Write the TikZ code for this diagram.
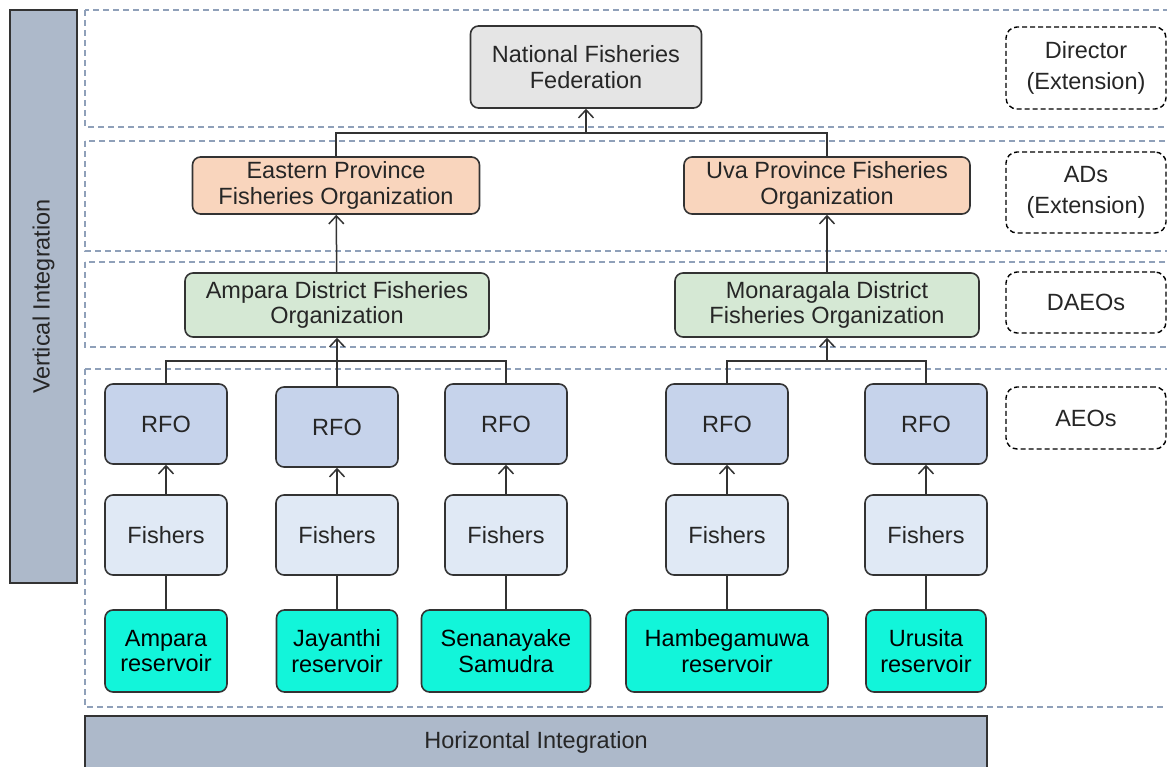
\documentclass[tikz,border=0pt]{standalone}
\usepackage{fontspec}
\setmainfont{Liberation Sans}
\usetikzlibrary{graphs}
\usetikzlibrary{arrows.meta}
\definecolor{barblue}{HTML}{ADB9CA}
\definecolor{bandblue}{HTML}{8FA0B9}
\definecolor{edgegray}{HTML}{333333}
\definecolor{natgray}{HTML}{E5E5E5}
\definecolor{provpeach}{HTML}{F9D5BD}
\definecolor{distgreen}{HTML}{D5E8D4}
\definecolor{rfoblue}{HTML}{C6D3EB}
\definecolor{fishblue}{HTML}{E0E9F5}
\definecolor{rescyan}{HTML}{12F5DA}
\tikzset{
  box/.style= {draw=edgegray, line width=1.6pt, rounded corners=8pt, align=center,
    inner sep=0pt, text=black!85, font=\fontsize{23.5}{25.5}\selectfont},
  natbox/.style= {box, fill=natgray},
  provbox/.style= {box, fill=provpeach, minimum height=57},
  distbox/.style= {box, fill=distgreen, minimum width=304, minimum height=64},
  rfobox/.style= {box, fill=rfoblue, minimum width=122, minimum height=80},
  fishbox/.style= {box, fill=fishblue, minimum width=122, minimum height=80},
  resbox/.style= {box, fill=rescyan, minimum height=82, text=black},
  rolebox/.style= {box, draw=black, dash pattern=on 5pt off 3pt, line width=1.4pt,
    rounded corners=11pt, minimum width=160, font=\fontsize{23.5}{31}\selectfont},
  band/.style= {draw=bandblue, dash pattern=on 6pt off 4pt, line width=1.2pt},
  bar/.style= {draw=black!80, line width=1.6pt, fill=barblue, inner sep=0pt,
    text=black!85, font=\fontsize{23.5}{25.5}\selectfont},
  link/.style= {draw=edgegray, line width=1.5pt},
}

\begin{document}
\begin{tikzpicture}[x=1pt, y=-1pt, >={Straight Barb[length=8pt, width=15pt, line width=1.5pt]}]
  \useasboundingbox (0,0) rectangle (1167,767);
  \clip (0,0) rectangle (1167,767);

  % level bands
  \draw [band] (85,10) rectangle (1180,127);
  \draw [band] (85,141) rectangle (1180,251);
  \draw [band] (85,262) rectangle (1180,347);
  \draw [band] (85,369) rectangle (1180,707);

  % integration bars
  \node [bar, rotate=90, minimum width=573, minimum height=67] (vbar) at (43.5,296.5) {Vertical Integration};
  \node [bar, minimum width=902, minimum height=52] (hbar) at (536,742) {Horizontal Integration};

  % organizations
  \node [natbox, minimum width=231, minimum height=82] (nff) at (586,67) {National Fisheries\\Federation};
  \node [provbox, minimum width=287] (east) at (336,185.5) {Eastern Province\\Fisheries Organization};
  \node [provbox, minimum width=286] (uva) at (827,185.5) {Uva Province Fisheries\\Organization};
  \node [distbox] (ampd) at (337,305) {Ampara District Fisheries\\Organization};
  \node [distbox] (mond) at (827,305) {Monaragala District\\Fisheries Organization};

  \node [rfobox] (rfo1) at (166,424) {RFO};
  \node [rfobox] (rfo2) at (337,427) {RFO};
  \node [rfobox] (rfo3) at (506,424) {RFO};
  \node [rfobox] (rfo4) at (727,424) {RFO};
  \node [rfobox] (rfo5) at (926,424) {RFO};

  \node [fishbox] (fish1) at (166,535) {Fishers};
  \node [fishbox] (fish2) at (337,535) {Fishers};
  \node [fishbox] (fish3) at (506,535) {Fishers};
  \node [fishbox] (fish4) at (727,535) {Fishers};
  \node [fishbox] (fish5) at (926,535) {Fishers};

  \node [resbox, minimum width=122] (res1) at (166,651) {Ampara\\reservoir};
  \node [resbox, minimum width=121] (res2) at (337,651) {Jayanthi\\reservoir};
  \node [resbox, minimum width=169] (res3) at (506,651) {Senanayake\\Samudra};
  \node [resbox, minimum width=202] (res4) at (727,651) {Hambegamuwa\\reservoir};
  \node [resbox, minimum width=120] (res5) at (926,651) {Urusita\\reservoir};

  % roles
  \node [rolebox, minimum height=82] (dir) at (1086,68) {Director\\(Extension)};
  \node [rolebox, minimum height=81] (ads) at (1086,192.5) {ADs\\(Extension)};
  \node [rolebox, minimum height=61] (daeo) at (1086,302.5) {DAEOs};
  \node [rolebox, minimum height=62] (aeo) at (1086,418) {AEOs};

  % junctions
  \coordinate (jnat) at (586,133);
  \coordinate (jamp) at (337,361);
  \coordinate (jmon) at (827,361);

  \draw [link] (east.north) |- (jnat) ;
  \draw [link] (uva.north) |- (jnat) ;
  \draw [link, ->] (jnat) -- (nff.south) ;
  \draw [link] (rfo1.north) |- (jamp) ;
  \draw [link] (rfo3.north) |- (jamp) ;
  \draw [link, ->] (rfo2.north) -- (ampd.south) ;
  \draw [link] (rfo4.north) |- (jmon) ;
  \draw [link] (rfo5.north) |- (jmon) ;
  \draw [link, ->] (jmon) -- (mond.south) ;

  \graph [edges={link}] {
    (ampd) -> (east) ;
    (mond) -> (uva) ;
    (fish1) -> (rfo1) ; (fish2) -> (rfo2) ; (fish3) -> (rfo3) ;
    (fish4) -> (rfo4) ; (fish5) -> (rfo5) ;
    (res1) -- (fish1) ; (res2) -- (fish2) ; (res3) -- (fish3) ;
    (res4) -- (fish4) ; (res5) -- (fish5) ;
  } ;
\end{tikzpicture}
\end{document}
